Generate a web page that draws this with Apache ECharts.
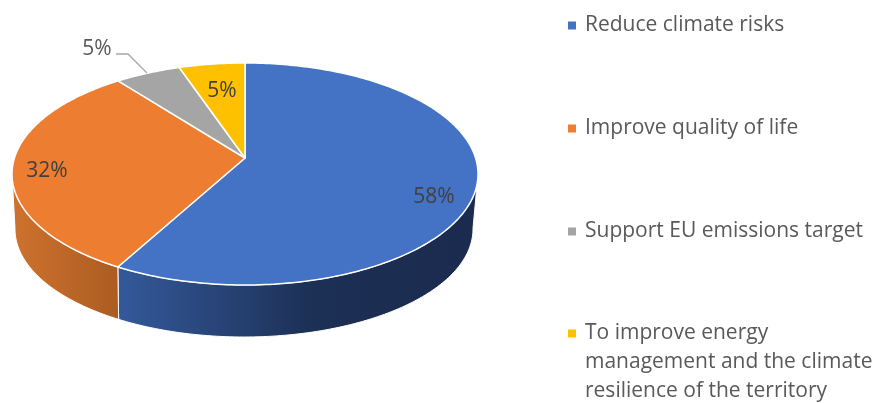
<!DOCTYPE html>
<html><head><meta charset="utf-8">
<style>html,body{margin:0;padding:0;background:#fff}#c{width:873px;height:403px}</style>
<script src="https://cdn.jsdelivr.net/npm/echarts@6/dist/echarts.min.js"></script>
</head><body><div id="c"></div>
<script>
const categories = ['Reduce climate risks','Improve quality of life','Support EU emissions target','To improve energy\nmanagement and the climate\nresilience of the territory'];
const values = [58,31.5,5.25,5.25];
const labels = ['58%','32%','5%','5%'];
const colors = ['#4472C4','#ED7D31','#A5A5A5','#FFC000'];

// layout (view of the disc)
const FONT = '"Open Sans", sans-serif';
const disc = {cx:245, cy:174, rx:233, ry:111, tilt:16};
const base = {cx:244, cy:229, rx:229, ry:108, tilt:16};
const labelPos = [[434,197],[47,171],[97,49],[222,91]];
const legendTop = [11,114,217,261];
const wallFill = [
  [[0,'#34599B'],[0.55,'#1C2F54'],[1,'#1A2B4E']],
  [[0,'#CE722E'],[1,'#AC5C22']]
];
const leader = [[116,54],[128,54],[147,73]];

const total = values.reduce((a,b)=>a+b,0);
function project(d, frac, r){
  const k = d.tilt/d.ry;
  const A = d.rx*Math.sqrt(1-k*k);
  const a = frac*2*Math.PI, u = r*Math.sin(a), v = r*Math.cos(a);
  const w = 1+k*v;
  return [d.cx + A*u/w, d.cy + (-d.ry*v - d.tilt)/w];
}
function arc(d, f0, f1){
  const pts=[], n=Math.max(2,Math.ceil((f1-f0)*360));
  for(let i=0;i<=n;i++) pts.push(project(d, f0+(f1-f0)*i/n, 1));
  return pts;
}
const edge = Math.asin(disc.tilt/disc.ry)/(2*Math.PI);
let running = 0;
const series = values.map((val,i)=>{
  const start = running/total; running += val; const end = running/total;
  return {
    type:'custom', name:categories[i], coordinateSystem:'none', silent:true,
    itemStyle:{color:colors[i]},
    data:[[start,end]],
    renderItem(params, api){
      const f0=api.value(0), f1=api.value(1), kids=[];
      const a0=Math.max(f0,0.25+edge), a1=Math.min(f1,0.75-edge);
      if(a1>a0 && wallFill[i]){
        const pts=arc(disc,a0,a1).concat(arc(base,a0,a1).reverse());
        kids.push({type:'polygon',shape:{points:pts},style:{
          fill:new echarts.graphic.LinearGradient(0,0,1,0,wallFill[i].map(s=>({offset:s[0],color:s[1]}))),
          stroke:'#fff',lineWidth:1}});
      }
      const top=[project(disc,0,0)].concat(arc(disc,f0,f1));
      kids.push({type:'polygon',shape:{points:top},style:{fill:colors[i],stroke:'#fff',lineWidth:1.5,lineJoin:'round'}});
      return {type:'group',children:kids};
    }
  };
});
// labels and leader go in a last layer, above every slice
series.push({
  type:'custom', name:'labels', coordinateSystem:'none', silent:true,
  data:[[0]],
  renderItem(){
    const kids=[{type:'polyline',shape:{points:leader},style:{fill:'none',stroke:'#A6A6A6',lineWidth:1.3}}];
    labels.forEach((t,i)=>kids.push({type:'text',style:{text:t,x:labelPos[i][0],y:labelPos[i][1],
      font:'21px '+FONT,fill:i===2?'#595959':'#404040',align:'center',verticalAlign:'middle'}}));
    return {type:'group',children:kids};
  }
});
const chart = echarts.init(document.getElementById('c'),null,{renderer:'canvas'});
chart.setOption({
  animation:false,
  legend:categories.map((name,i)=>({
    orient:'vertical', left:568, top:legendTop[i], padding:0, height:400,
    itemWidth:8, itemHeight:8, icon:'rect', selectedMode:false,
    // the wrapped entry keeps its marker on the first line
    formatter:n=>i===3?'\n\n'+n:n,
    textStyle:{fontFamily:FONT,fontSize:21,color:'#595959',lineHeight:29,padding:[0,0,0,4]},
    data:[{name}]
  })),
  series
});
</script></body></html>
